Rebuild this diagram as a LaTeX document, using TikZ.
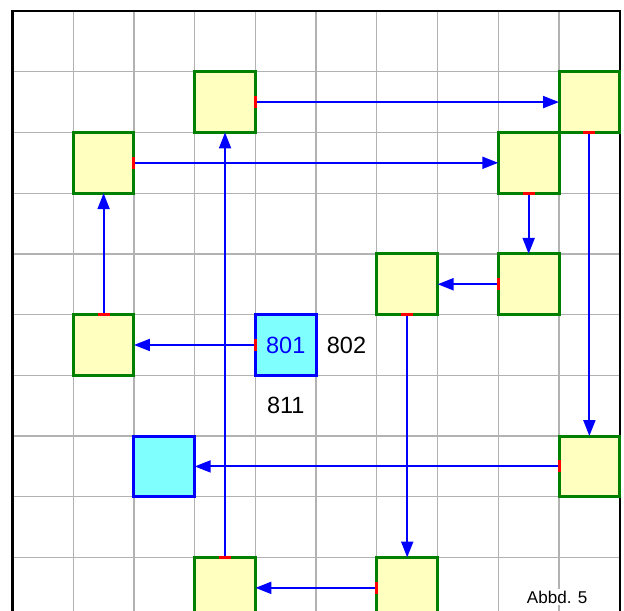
\documentclass[tikz,border=0pt]{standalone}
\usepackage{fontspec}
\setmainfont{Liberation Sans}
\usepackage{tikz}
\usetikzlibrary{arrows.meta,calc}
\usepackage{xcolor}
\definecolor{cellfill}{HTML}{FFFFC0}
\definecolor{cellline}{HTML}{008000}
\definecolor{markfill}{HTML}{80FFFF}
\definecolor{flowblue}{HTML}{0000FF}

\begin{document}
\begin{tikzpicture}[
    gridline/.style={black!30,line width=0.6pt},
    frame/.style={black,line width=1pt},
    cell/.style={draw=cellline,fill=cellfill,line width=1.4pt,minimum size=1cm,inner sep=0pt,outer sep=0pt},
    markcell/.style={draw=flowblue,fill=markfill,line width=1.4pt,minimum size=1cm,inner sep=0pt,outer sep=0pt},
    flow/.style={flowblue,line width=1pt,-{Triangle[length=7.5pt,width=5.6pt]}},
    tick/.style={red,line width=1.4pt},
    num/.style={font=\fontsize{11}{13}\selectfont}
  ]
  % page and grid
  \useasboundingbox (-0.206,0.181) rectangle (10.07,-9.87);
  \fill[white] (-0.206,0.181) rectangle (10.07,-9.87);
  \clip (-0.206,0.181) rectangle (10.07,-9.87);
  \draw[gridline] (0,-10) grid (10,0);
  \draw[frame] (0,-10) -- (0,0) -- (10,0) -- (10,-10);

  % cells
  \node[cell] (nA) at (3.5,-1.5) {};
  \node[cell] (nB) at (1.5,-2.5) {};
  \node[cell] (nC) at (9.5,-1.5) {};
  \node[cell] (nD) at (8.5,-2.5) {};
  \node[cell] (nE) at (8.5,-4.5) {};
  \node[cell] (nF) at (6.5,-4.5) {};
  \node[cell] (nG) at (1.5,-5.5) {};
  \node[markcell,num,text=flowblue] (n801) at (4.5,-5.5) {801};
  \node[markcell] (nK) at (2.5,-7.5) {};
  \node[cell] (nH) at (9.5,-7.5) {};
  \node[cell] (nI) at (3.5,-9.5) {};
  \node[cell] (nJ) at (6.5,-9.5) {};

  % labels
  \node[num] (l802) at (5.5,-5.5) {802};
  \node[num] (l811) at (4.5,-6.5) {811};
  \node[fill=white,inner sep=1pt,font=\fontsize{8}{10}\selectfont] (cap) at (8.97,-9.65) {Abbd. 5};

  % connectors with start marks
  \foreach \src/\sa/\dst/\da/\tx/\ty in {
      nA/east/nC/west/0/1, nB/east/nD/west/0/1, nC/south/nH/north/1/0,
      nD/south/nE/north/1/0, nE/west/nF/east/0/1, nF/south/nJ/north/1/0,
      nG/north/nB/south/1/0, n801/west/nG/east/0/1, nH/west/nK/east/0/1,
      nJ/west/nI/east/0/1, nI/north/nA/south/1/0} {
    \draw[flow] (\src.\sa) -- (\dst.\da);
    \draw[tick] ($(\src.\sa)+(-0.1*\tx,-0.1*\ty)$) -- ($(\src.\sa)+(0.1*\tx,0.1*\ty)$);
  }
\end{tikzpicture}
\end{document}
